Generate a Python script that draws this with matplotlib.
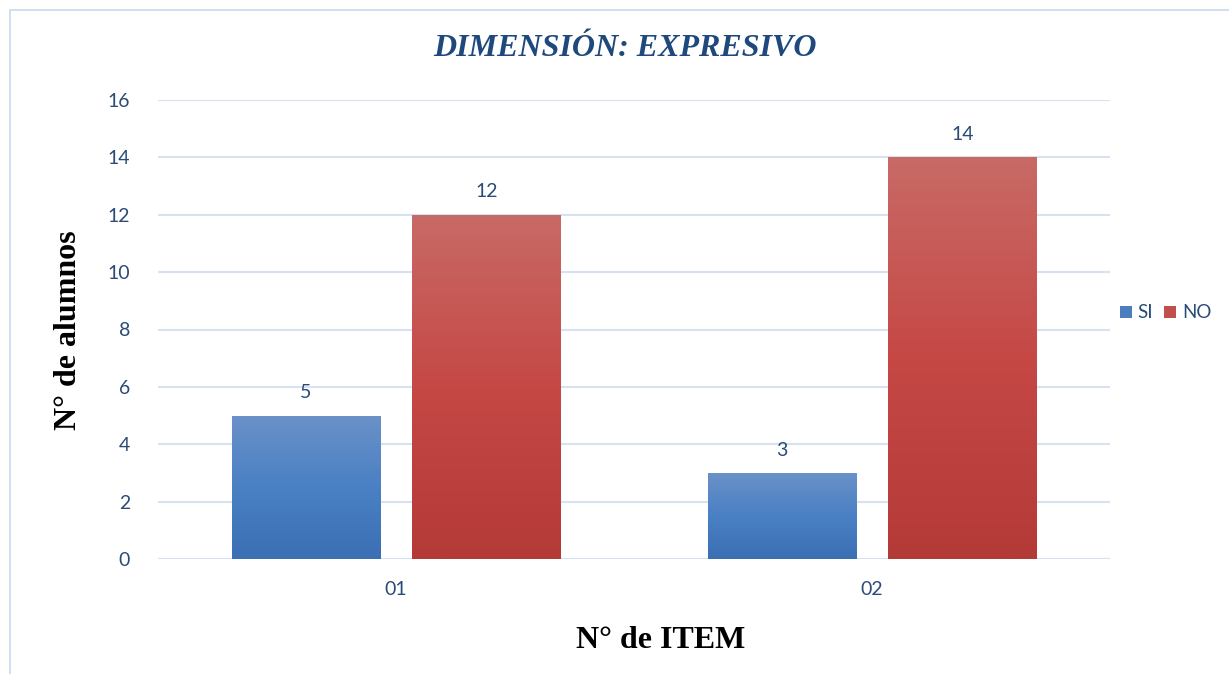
import numpy as np
import matplotlib
matplotlib.use('Agg')
import matplotlib.pyplot as plt
from matplotlib.colors import LinearSegmentedColormap
from matplotlib.patches import Rectangle

# data
items = ['01', '02']
series = ['SI', 'NO']
si_vals = [5, 3]
no_vals = [12, 14]

TXT = '#2a4b78'
GRID = '#d6e2f1'

fig = plt.figure(figsize=(12.29, 6.74), dpi=100)
ax = fig.add_axes([158/1229, 1 - 559/674, (1110-158)/1229, (559-100)/674])

x = np.arange(len(items))
w = 0.311
off = 0.19
b_si = ax.bar(x - off, si_vals, w, color='#4a7ebf', label='SI', zorder=2)
b_no = ax.bar(x + off, no_vals, w, color='#c0504d', label='NO', zorder=2)

# gradient fill, lighter on top
cm_si = LinearSegmentedColormap.from_list('si', ['#3b6fb3', '#4a80c4', '#6b91c8'])
cm_no = LinearSegmentedColormap.from_list('no', ['#b43a38', '#c54845', '#c86a66'])
grad = np.linspace(0, 1, 256).reshape(-1, 1)
for bars, cm in ((b_si, cm_si), (b_no, cm_no)):
    for p in bars:
        x0, y0 = p.get_x(), p.get_y()
        im = ax.imshow(grad, cmap=cm, origin='lower', aspect='auto',
                       extent=[x0, x0 + p.get_width(), y0, y0 + p.get_height()], zorder=3)
        im.set_clip_path(p)
        ax.text(x0 + p.get_width()/2, p.get_height() + 0.5, str(int(p.get_height())),
                ha='center', va='bottom', fontsize=14, color=TXT, family='Lato')

ax.set_xlim(-0.5, 1.5)
ax.set_ylim(0, 16)
ax.set_yticks(range(0, 17, 2))
ax.set_xticks(x)
ax.set_xticklabels(items)
ax.grid(axis='y', color=GRID, linewidth=1.5, zorder=0)
ax.axhline(0, color=GRID, linewidth=1.5, zorder=1)
for s in ax.spines.values():
    s.set_visible(False)
ax.tick_params(length=0, labelsize=14, labelcolor=TXT)
for t in ax.get_xticklabels() + ax.get_yticklabels():
    t.set_family('Lato')
ax.tick_params(axis='x', pad=16)
ax.tick_params(axis='y', pad=20)

fig.text(625/1229, 1 - 48/674, 'DIMENSIÓN: EXPRESIVO', ha='center', va='center',
         fontsize=23, fontweight='bold', fontstyle='italic', color='#1f497d',
         family='Liberation Serif')
fig.text(68/1229, 1 - 330/674, 'N° de alumnos', rotation=90, ha='center', va='center',
         fontsize=23, fontweight='bold', color='black', family='Liberation Serif')
fig.text(661/1229, 1 - 640/674, 'N° de ITEM', ha='center', va='center',
         fontsize=23, fontweight='bold', color='black', family='Liberation Serif')

leg = fig.legend(handles=[b_si, b_no], labels=series, loc='center left',
                 bbox_to_anchor=(1112/1229, 1 - 313/674), ncol=2, frameon=False,
                 handlelength=0.65, handleheight=0.65, handletextpad=0.3, columnspacing=0.6,
                 borderpad=0.2, borderaxespad=0.2, prop={'family': 'Lato', 'size': 13.5})
for t in leg.get_texts():
    t.set_color(TXT)

# outer chart border
fig.patches.append(Rectangle((10/1229, -0.1), 1.2, 1 - 10/674 + 0.1, transform=fig.transFigure,
                             fill=False, edgecolor='#c9d9ee', linewidth=1.2))

fig.savefig('out.png', dpi=100)
